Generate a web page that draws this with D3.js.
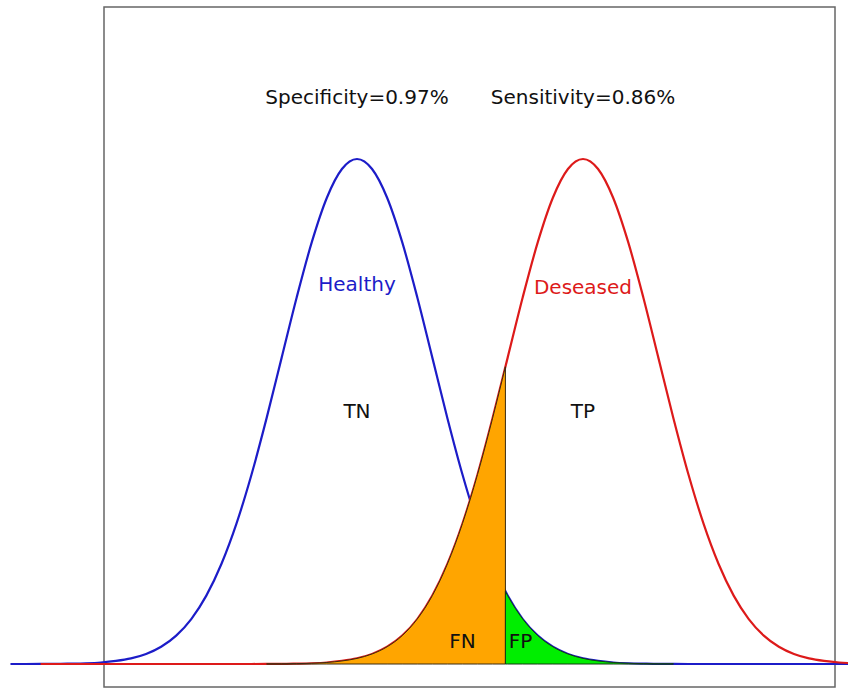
<!DOCTYPE html>
<html>
<head>
<meta charset="utf-8">
<script src="https://cdn.jsdelivr.net/npm/d3@7"></script>
<style>
  html, body { margin: 0; padding: 0; background: #fff; }
  svg { display: block; }
  text { font-family: "DejaVu Sans", sans-serif; font-size: 20px; }
</style>
</head>
<body>
<div id="chart"></div>
<script>
// ---- data ----
const xValues = [-0.6,-0.4,-0.2,0.0,0.2,0.4,0.6,0.8,1.0,1.2,1.4,1.6,1.8,2.0,2.2,2.4,2.6,2.8,3.0,3.2,3.4,3.6,3.8,4.0,
  4.2,4.4,4.6,4.8,5.0,5.2,5.4,5.6,5.8,6.0,6.2,6.4,6.6,6.8,7.0,7.2,7.4,7.6,7.8,8.0,8.2,
  8.4,8.6,8.8,9.0,9.2,9.4,9.6,9.8,10.0,10.2,10.4,10.6,10.8,11.0];

const healthy = [0,0,0.0001,0.0001,0.0003,0.0006,0.0012,0.0024,0.0044,0.0079,0.0136,0.0224,0.0355,0.0540,0.0790,0.1109,0.1497,0.1942,0.2420,0.2897,0.3332,0.3683,0.3910,0.3989,
  0.3910,0.3683,0.3332,0.2897,0.2420,0.1942,0.1497,0.1109,0.0790,0.0540,0.0355,0.0224,0.0136,0.0079,0.0044,0.0024,0.0012,0.0006,0.0003,0.0001,0.0001,
  0,0,0,0,0,0,0,0,0,0,0,0,0,0];

const deseased = [null,null,0,0,0,0,0,0,0,0,0,0,0,0,0,0,0,0.0001,0.0001,0.0003,0.0006,0.0012,0.0024,0.0044,
  0.0079,0.0136,0.0224,0.0355,0.0540,0.0790,0.1109,0.1497,0.1942,0.2420,0.2897,0.3332,0.3683,0.3910,0.3989,0.3910,0.3683,0.3332,0.2897,0.2420,0.1942,
  0.1497,0.1109,0.0790,0.0540,0.0355,0.0224,0.0136,0.0079,0.0044,0.0024,0.0012,0.0006,0.0003,0.0001];

const threshold = 5.97;
const deseasedAtThreshold = 0.2348;
const healthyAtThreshold = 0.0573;
const fnStart = 2.8;
const fpEnd = 8.2;

const curveLabels = ["Healthy", "Deseased"];
const regionLabels = ["TN", "TP", "FN", "FP"];
const statLabels = ["Specificity=0.97%", "Sensitivity=0.86%"];

// ---- layout ----
const W = 848, H = 689;
const box = {left: 104, top: 7, right: 835, bottom: 687};

const svg = d3.select("#chart").append("svg").attr("width", W).attr("height", H);

const x = d3.scaleLinear().domain([4, 7]).range([357, 583]);
const y = d3.scaleLinear().domain([0, 0.4]).range([664, 157.6]);

// frame
svg.append("rect")
  .attr("x", box.left).attr("y", box.top)
  .attr("width", box.right - box.left).attr("height", box.bottom - box.top)
  .attr("fill", "none").attr("stroke", "#666").attr("stroke-width", 1.5);

const line = d3.line()
  .defined(d => d[1] !== null)
  .x(d => x(d[0])).y(d => y(d[1]))
  .curve(d3.curveMonotoneX);

const blueData = xValues.map((v, i) => [v, healthy[i]]);
const redData = xValues.map((v, i) => [v, deseased[i]]);

svg.append("path").attr("d", line(blueData))
  .attr("fill", "none").attr("stroke", "#1c1cc8").attr("stroke-width", 2.2);
svg.append("path").attr("d", line(redData))
  .attr("fill", "none").attr("stroke", "#dd1a1a").attr("stroke-width", 2.2);

// fills
const area = d3.area()
  .x(d => x(d[0])).y0(y(0)).y1(d => y(d[1]))
  .curve(d3.curveMonotoneX);

const fnData = redData.filter(d => d[1] !== null && d[0] >= fnStart - 1e-9 && d[0] < threshold)
  .concat([[threshold, deseasedAtThreshold]]);
const fpData = [[threshold, healthyAtThreshold]]
  .concat(blueData.filter(d => d[0] > threshold && d[0] <= fpEnd + 1e-9));

svg.append("path").attr("d", area(fnData) + "Z")
  .attr("fill", "#ffa500").attr("stroke", "#3a2a10").attr("stroke-width", 1);
svg.append("path").attr("d", area(fpData) + "Z")
  .attr("fill", "#00ee00").attr("stroke", "#143a14").attr("stroke-width", 1);

// texts
svg.append("text").attr("x", x(4)).attr("y", 104).attr("text-anchor", "middle")
  .attr("fill", "#111").text(statLabels[0]);
svg.append("text").attr("x", x(7)).attr("y", 104).attr("text-anchor", "middle")
  .attr("fill", "#111").text(statLabels[1]);

svg.append("text").attr("x", x(4)).attr("y", y(0.3) + 7).attr("text-anchor", "middle")
  .attr("fill", "#1c1cc8").text(curveLabels[0]);
svg.append("text").attr("x", x(7)).attr("y", y(0.298) + 7).attr("text-anchor", "middle")
  .attr("fill", "#dd1a1a").text(curveLabels[1]);

svg.append("text").attr("x", x(4)).attr("y", y(0.2) + 7).attr("text-anchor", "middle")
  .attr("fill", "#111").text(regionLabels[0]);
svg.append("text").attr("x", x(7)).attr("y", y(0.2) + 7).attr("text-anchor", "middle")
  .attr("fill", "#111").text(regionLabels[1]);
svg.append("text").attr("x", x(5.4)).attr("y", y(0.018) + 7).attr("text-anchor", "middle")
  .attr("fill", "#111").text(regionLabels[2]);
svg.append("text").attr("x", x(6.17)).attr("y", y(0.018) + 7).attr("text-anchor", "middle")
  .attr("fill", "#111").text(regionLabels[3]);
</script>
</body>
</html>
